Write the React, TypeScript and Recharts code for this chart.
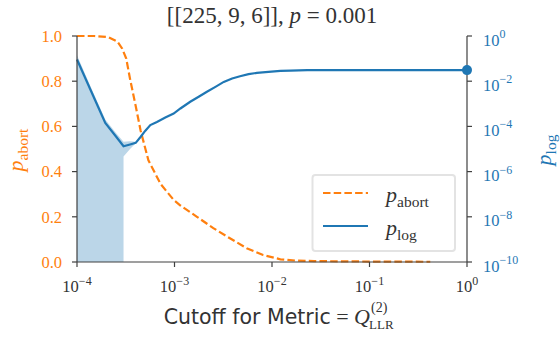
import React from "react";
import { ComposedChart, Line, Area, XAxis, YAxis } from "recharts";

// cutoff values on the x axis (log scale)
const X_TICKS = [1e-4, 1e-3, 1e-2, 1e-1, 1];
const ABORT_TICKS = [0, 0.2, 0.4, 0.6, 0.8, 1];
const LOG_TICKS = [1e-10, 1e-8, 1e-6, 1e-4, 1e-2, 1];

// abort rate vs. cutoff
const ABORT_CUTOFF = [
  1e-4, 1.5e-4, 2.1e-4, 2.6e-4, 2.9e-4, 3.2e-4, 3.5e-4, 4.0e-4, 4.5e-4, 5.4e-4,
  7.2e-4, 9.8e-4, 1.15e-3, 1.7e-3, 2.5e-3, 3.7e-3, 5.5e-3, 8.1e-3, 1.22e-2,
  1.8e-2, 2.7e-2, 0.1, 0.42,
];
const ABORT_RATE = [
  1.0, 1.0, 0.995, 0.975, 0.945, 0.9, 0.81, 0.69, 0.58, 0.45, 0.345, 0.275,
  0.25, 0.2, 0.15, 0.105, 0.061, 0.031, 0.012, 0.006, 0.004, 0.002, 0.001,
];

// logical error rate vs. cutoff
const LOG_CUTOFF = [
  1e-4, 1.4e-4, 1.95e-4, 2.5e-4, 3.0e-4, 3.5e-4, 4.0e-4, 4.5e-4, 5.0e-4,
  5.65e-4, 6.6e-4, 8.05e-4, 9.8e-4, 1.15e-3, 1.45e-3, 1.77e-3, 2.15e-3,
  2.63e-3, 3.2e-3, 3.9e-3, 4.7e-3, 5.75e-3, 7.0e-3, 9.2e-3, 1.22e-2, 1.55e-2,
  2.3e-2, 0.05, 0.1, 0.3, 1,
];
const LOG_RATE = [
  0.091, 3.5e-3, 1.41e-4, 3.67e-5, 1.32e-5, 1.58e-5, 1.86e-5, 3.47e-5, 6.3e-5,
  1.15e-4, 1.58e-4, 2.5e-4, 3.7e-4, 6.2e-4, 1.23e-3, 2.04e-3, 3.4e-3,
  5.6e-3, 9.3e-3, 0.0132, 0.0166, 0.0204, 0.0234, 0.0257, 0.0285, 0.0295,
  0.0309, 0.031, 0.031, 0.031, 0.031,
];

// confidence band of the logical error rate
const BAND_CUTOFF = [1e-4, 1.4e-4, 1.95e-4, 2.5e-4, 3.0e-4, 3.0e-4, 3.5e-4, 4.1e-4];
const BAND_LOW = [1e-10, 1e-10, 1e-10, 1e-10, 1e-10, 4.6e-6, 1.0e-5, 2.0e-5];
const BAND_HIGH = [0.14, 5.0e-3, 2.0e-4, 5.2e-5, 2.1e-5, 2.1e-5, 2.2e-5, 2.1e-5];

const ORANGE = "#ff7f0e";
const BLUE = "#1f77b4";
const SPINE = "#404040";
const TEXT = "#333333";
const SERIF = '"Liberation Serif", "DejaVu Serif", serif';
const SANS = '"DejaVu Sans", sans-serif';

const W = 560;
const H = 343;
const M_TOP = 36;
const LEFT_W = 77;
const RIGHT_W = 93;
const BOTTOM_H = 81;

const abortData = ABORT_CUTOFF.map((x, i) => ({ x, abort: ABORT_RATE[i] }));
const logData = LOG_CUTOFF.map((x, i) => ({ x, plog: LOG_RATE[i] }));
const bandData = BAND_CUTOFF.map((x, i) => ({ x, band: [BAND_LOW[i], BAND_HIGH[i]] }));

function expLabel(v: number) {
  const e = Math.round(Math.log10(v));
  return e < 0 ? `\u2212${-e}` : `${e}`;
}

function PowerTick(props: any) {
  const { x, y, payload, anchor, fill, dy } = props;
  return (
    <text
      x={x}
      y={y}
      dy={dy}
      textAnchor={anchor}
      fill={fill}
      style={{ fontFamily: SERIF, fontSize: 16.5 }}
    >
      <tspan>10</tspan>
      <tspan dy={-7.5} style={{ fontSize: 12 }}>
        {expLabel(payload.value)}
      </tspan>
    </text>
  );
}

function AbortTick(props: any) {
  const { x, y, payload } = props;
  return (
    <text
      x={x}
      y={y}
      dy={5.7}
      textAnchor="end"
      fill={ORANGE}
      style={{ fontFamily: SERIF, fontSize: 16.5 }}
    >
      {payload.value.toFixed(1)}
    </text>
  );
}

function SideLabel(props: any) {
  const { viewBox, offsetX, name, sub, color } = props;
  const cx = viewBox.x + offsetX;
  const cy = viewBox.y + viewBox.height / 2 + 1;
  return (
    <text
      x={cx}
      y={cy}
      transform={`rotate(-90 ${cx} ${cy})`}
      textAnchor="middle"
      fill={color}
      style={{ fontFamily: SERIF, fontSize: 22 }}
    >
      <tspan fontStyle="italic">{name}</tspan>
      <tspan dy={5} style={{ fontSize: 15.5 }}>
        {sub}
      </tspan>
    </text>
  );
}

const LEGEND = [
  { name: "p", sub: "abort", color: ORANGE, dash: "7.5 3.2" },
  { name: "p", sub: "log", color: BLUE, dash: undefined },
];

export default function App() {
  const plotLeft = LEFT_W;
  const plotRight = W - RIGHT_W;
  const plotMid = (plotLeft + plotRight) / 2;
  const lastIdx = LOG_CUTOFF.length - 1;

  return (
    <div style={{ position: "absolute", left: 0, top: 0, width: W, height: H, background: "#fff" }}>
      <ComposedChart width={W} height={H} margin={{ top: M_TOP, right: 0, bottom: 0, left: 0 }}>
        <XAxis
          dataKey="x"
          type="number"
          scale="log"
          domain={[1e-4, 1]}
          ticks={X_TICKS}
          height={BOTTOM_H}
          tickSize={5}
          tickMargin={3}
          stroke={SPINE}
          axisLine={{ stroke: SPINE, strokeWidth: 1.2 }}
          tickLine={{ stroke: SPINE, strokeWidth: 1.2 }}
          tick={(p: any) => <PowerTick {...p} anchor="middle" fill={TEXT} dy={22} />}
        />
        <XAxis
          xAxisId="top"
          dataKey="x"
          type="number"
          scale="log"
          domain={[1e-4, 1]}
          orientation="top"
          height={0}
          tick={false}
          tickLine={false}
          axisLine={{ stroke: SPINE, strokeWidth: 1.2 }}
        />
        <YAxis
          yAxisId="abort"
          orientation="left"
          type="number"
          domain={[0, 1]}
          ticks={ABORT_TICKS}
          width={LEFT_W}
          tickSize={5}
          tickMargin={10}
          axisLine={{ stroke: SPINE, strokeWidth: 1.2 }}
          tickLine={{ stroke: SPINE, strokeWidth: 1.2 }}
          tick={(p: any) => <AbortTick {...p} />}
          label={{
            content: (p: any) => (
              <SideLabel {...p} offsetX={23} name="p" sub="abort" color={ORANGE} />
            ),
          }}
        />
        <YAxis
          yAxisId="log"
          orientation="right"
          type="number"
          scale="log"
          domain={[1e-10, 1]}
          ticks={LOG_TICKS}
          width={RIGHT_W}
          tickSize={5}
          tickMargin={11}
          axisLine={{ stroke: SPINE, strokeWidth: 1.2 }}
          tickLine={{ stroke: SPINE, strokeWidth: 1.2 }}
          tick={(p: any) => <PowerTick {...p} anchor="start" fill={BLUE} dy={9.5} />}
          label={{
            content: (p: any) => (
              <SideLabel {...p} offsetX={84} name="p" sub="log" color={BLUE} />
            ),
          }}
        />
        <Area
          yAxisId="log"
          data={bandData}
          dataKey="band"
          type="linear"
          stroke="none"
          fill={BLUE}
          fillOpacity={0.3}
          isAnimationActive={false}
        />
        <Line
          yAxisId="abort"
          data={abortData}
          dataKey="abort"
          type="linear"
          stroke={ORANGE}
          strokeWidth={2.2}
          strokeDasharray="7.5 3.2"
          dot={false}
          isAnimationActive={false}
        />
        <Line
          yAxisId="log"
          data={logData}
          dataKey="plog"
          type="linear"
          stroke={BLUE}
          strokeWidth={2.2}
          dot={(p: any) =>
            p.index === lastIdx ? (
              <circle key="end" cx={p.cx} cy={p.cy} r={5} fill={BLUE} />
            ) : (
              <g key={`d${p.index}`} />
            )
          }
          isAnimationActive={false}
        />
      </ComposedChart>

      <svg
        width={W}
        height={H}
        style={{ position: "absolute", left: 0, top: 0, pointerEvents: "none" }}
      >
        <text
          x={plotMid}
          y={23}
          textAnchor="middle"
          fill={TEXT}
          style={{ fontFamily: SERIF, fontSize: 23 }}
        >
          <tspan>[[225, 9, 6]], </tspan>
          <tspan fontStyle="italic">p</tspan>
          <tspan> = 0.001</tspan>
        </text>

        <text x={370} y={324} textAnchor="end" fill={TEXT}>
          <tspan style={{ fontFamily: SANS, fontSize: 20.5 }}>Cutoff for Metric</tspan>
          <tspan style={{ fontFamily: SERIF, fontSize: 22 }}> = </tspan>
          <tspan style={{ fontFamily: SERIF, fontSize: 22, fontStyle: "italic" }}>Q</tspan>
        </text>
        <text x={371} y={312} fill={TEXT} style={{ fontFamily: SERIF, fontSize: 14 }}>
          (2)
        </text>
        <text x={369} y={329} fill={TEXT} style={{ fontFamily: SERIF, fontSize: 13 }}>
          LLR
        </text>

        <rect
          x={312.5}
          y={175}
          width={142.5}
          height={76}
          rx={3}
          fill="#fff"
          fillOpacity={0.8}
          stroke="#e3e3e3"
          strokeWidth={2}
        />
        {LEGEND.map((item, i) => {
          const ly = 193 + i * 33;
          return (
            <g key={item.sub}>
              <line
                x1={323}
                x2={368}
                y1={ly}
                y2={ly}
                stroke={item.color}
                strokeWidth={2.2}
                strokeDasharray={item.dash}
              />
              <text x={386} y={ly + 9} fill={TEXT} style={{ fontFamily: SERIF, fontSize: 22 }}>
                <tspan fontStyle="italic">{item.name}</tspan>
                <tspan dy={5} style={{ fontSize: 15.5 }}>
                  {item.sub}
                </tspan>
              </text>
            </g>
          );
        })}
      </svg>
    </div>
  );
}
